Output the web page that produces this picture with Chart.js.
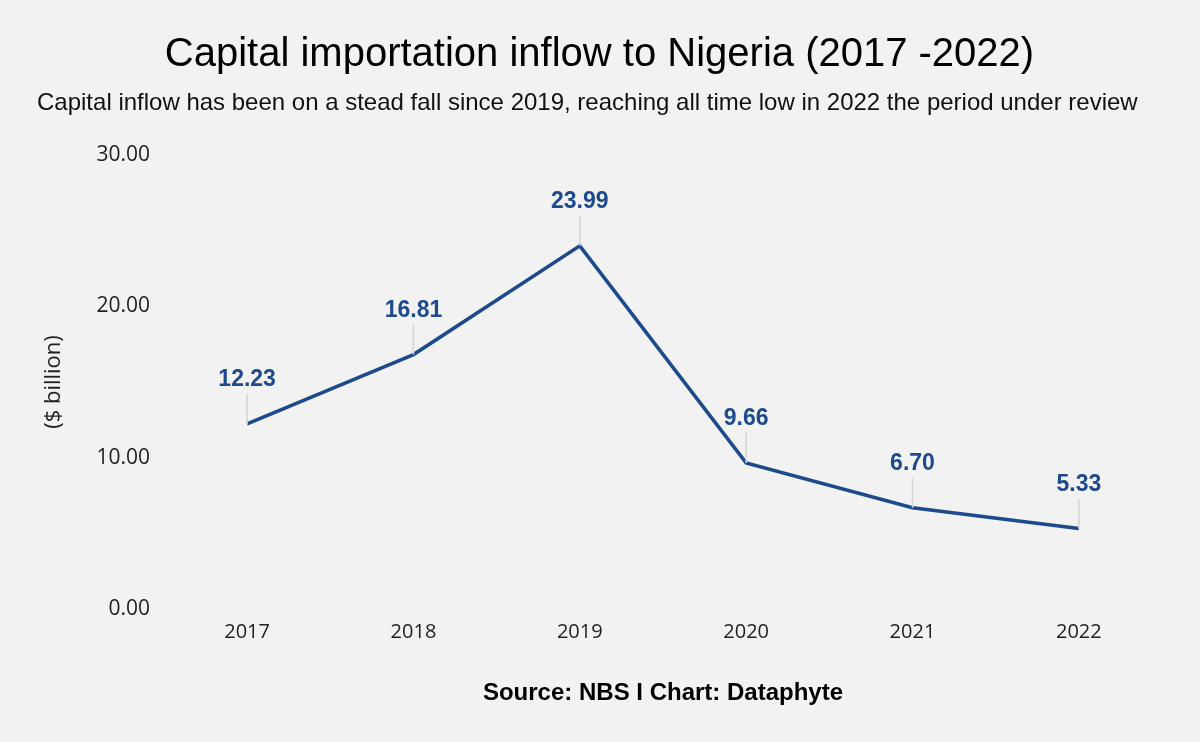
<!DOCTYPE html>
<html>
<head>
<meta charset="utf-8">
<script src="https://cdn.jsdelivr.net/npm/chart.js@4"></script>
<style>
  html, body { margin: 0; padding: 0; background: #f2f2f2; }
  #wrap { width: 1200px; height: 742px; }
</style>
</head>
<body>
<div id="wrap"><canvas id="chart" width="1200" height="742"></canvas></div>
<script>
// ─── Data ─────────────────────────────────────────────
const years   = ['2017', '2018', '2019', '2020', '2021', '2022'];
const inflow  = [12.23, 16.81, 23.99, 9.66, 6.70, 5.33];
const yTicks  = [0, 10, 20, 30];

const LINE_BLUE = '#1d4a8d';

// value labels with a small grey leader line
const valueLabels = {
  id: 'valueLabels',
  afterDatasetsDraw(chart) {
    const { ctx } = chart;
    const meta = chart.getDatasetMeta(0);
    ctx.save();
    meta.data.forEach((pt, i) => {
      ctx.strokeStyle = '#d4d4d4';
      ctx.lineWidth = 1.5;
      ctx.beginPath();
      ctx.moveTo(pt.x, pt.y);
      ctx.lineTo(pt.x, pt.y - 30);
      ctx.stroke();

      ctx.fillStyle = LINE_BLUE;
      ctx.font = 'bold 23px "Liberation Sans", Arial, sans-serif';
      ctx.textAlign = 'center';
      ctx.textBaseline = 'middle';
      ctx.fillText(inflow[i].toFixed(2), pt.x, pt.y - 44);
    });
    ctx.restore();
  }
};

new Chart(document.getElementById('chart'), {
  type: 'line',
  data: {
    labels: years,
    datasets: [{
      data: inflow,
      borderColor: LINE_BLUE,
      borderWidth: 3.5,
      pointRadius: 0,
      tension: 0,
      fill: false
    }]
  },
  options: {
    responsive: false,
    animation: false,
    layout: { padding: { top: 10, left: 37, right: 38, bottom: 30 } },
    plugins: {
      legend: { display: false },
      tooltip: { enabled: false },
      title: {
        display: true,
        text: 'Capital importation inflow to Nigeria (2017 -2022)',
        color: '#000',
        font: { family: '"Liberation Sans", Arial, sans-serif', size: 40, weight: 'normal' },
        padding: { top: 21, bottom: 4 }
      },
      subtitle: {
        display: true,
        align: 'start',
        text: 'Capital inflow has been on a stead fall since 2019, reaching all time low in 2022 the period under review',
        color: '#111',
        font: { family: '"Liberation Sans", Arial, sans-serif', size: 24 },
        padding: { top: 6, bottom: 37 }
      }
    },
    scales: {
      x: {
        offset: true,
        grid: { display: false, drawTicks: false },
        border: { display: false },
        ticks: { color: '#222', padding: 11, font: { family: '"Open Sans", sans-serif', size: 20 } },
        title: {
          display: true,
          text: 'Source: NBS I Chart: Dataphyte',
          color: '#000',
          font: { family: '"Liberation Sans", Arial, sans-serif', size: 24, weight: 'bold' },
          padding: { top: 24 }
        }
      },
      y: {
        min: 0,
        max: 30,
        afterBuildTicks(axis) { axis.ticks = yTicks.map(v => ({ value: v })); },
        grid: { display: false, drawTicks: false },
        border: { display: false },
        ticks: {
          color: '#222',
          padding: 14,
          font: { family: '"Open Sans", sans-serif', size: 21 },
          callback: v => Number(v).toFixed(2)
        },
        title: {
          display: true,
          text: '($ billion)',
          color: '#222',
          font: { family: '"Open Sans", sans-serif', size: 22 },
          padding: { bottom: 15 }
        }
      }
    }
  },
  plugins: [valueLabels]
});
</script>
</body>
</html>
